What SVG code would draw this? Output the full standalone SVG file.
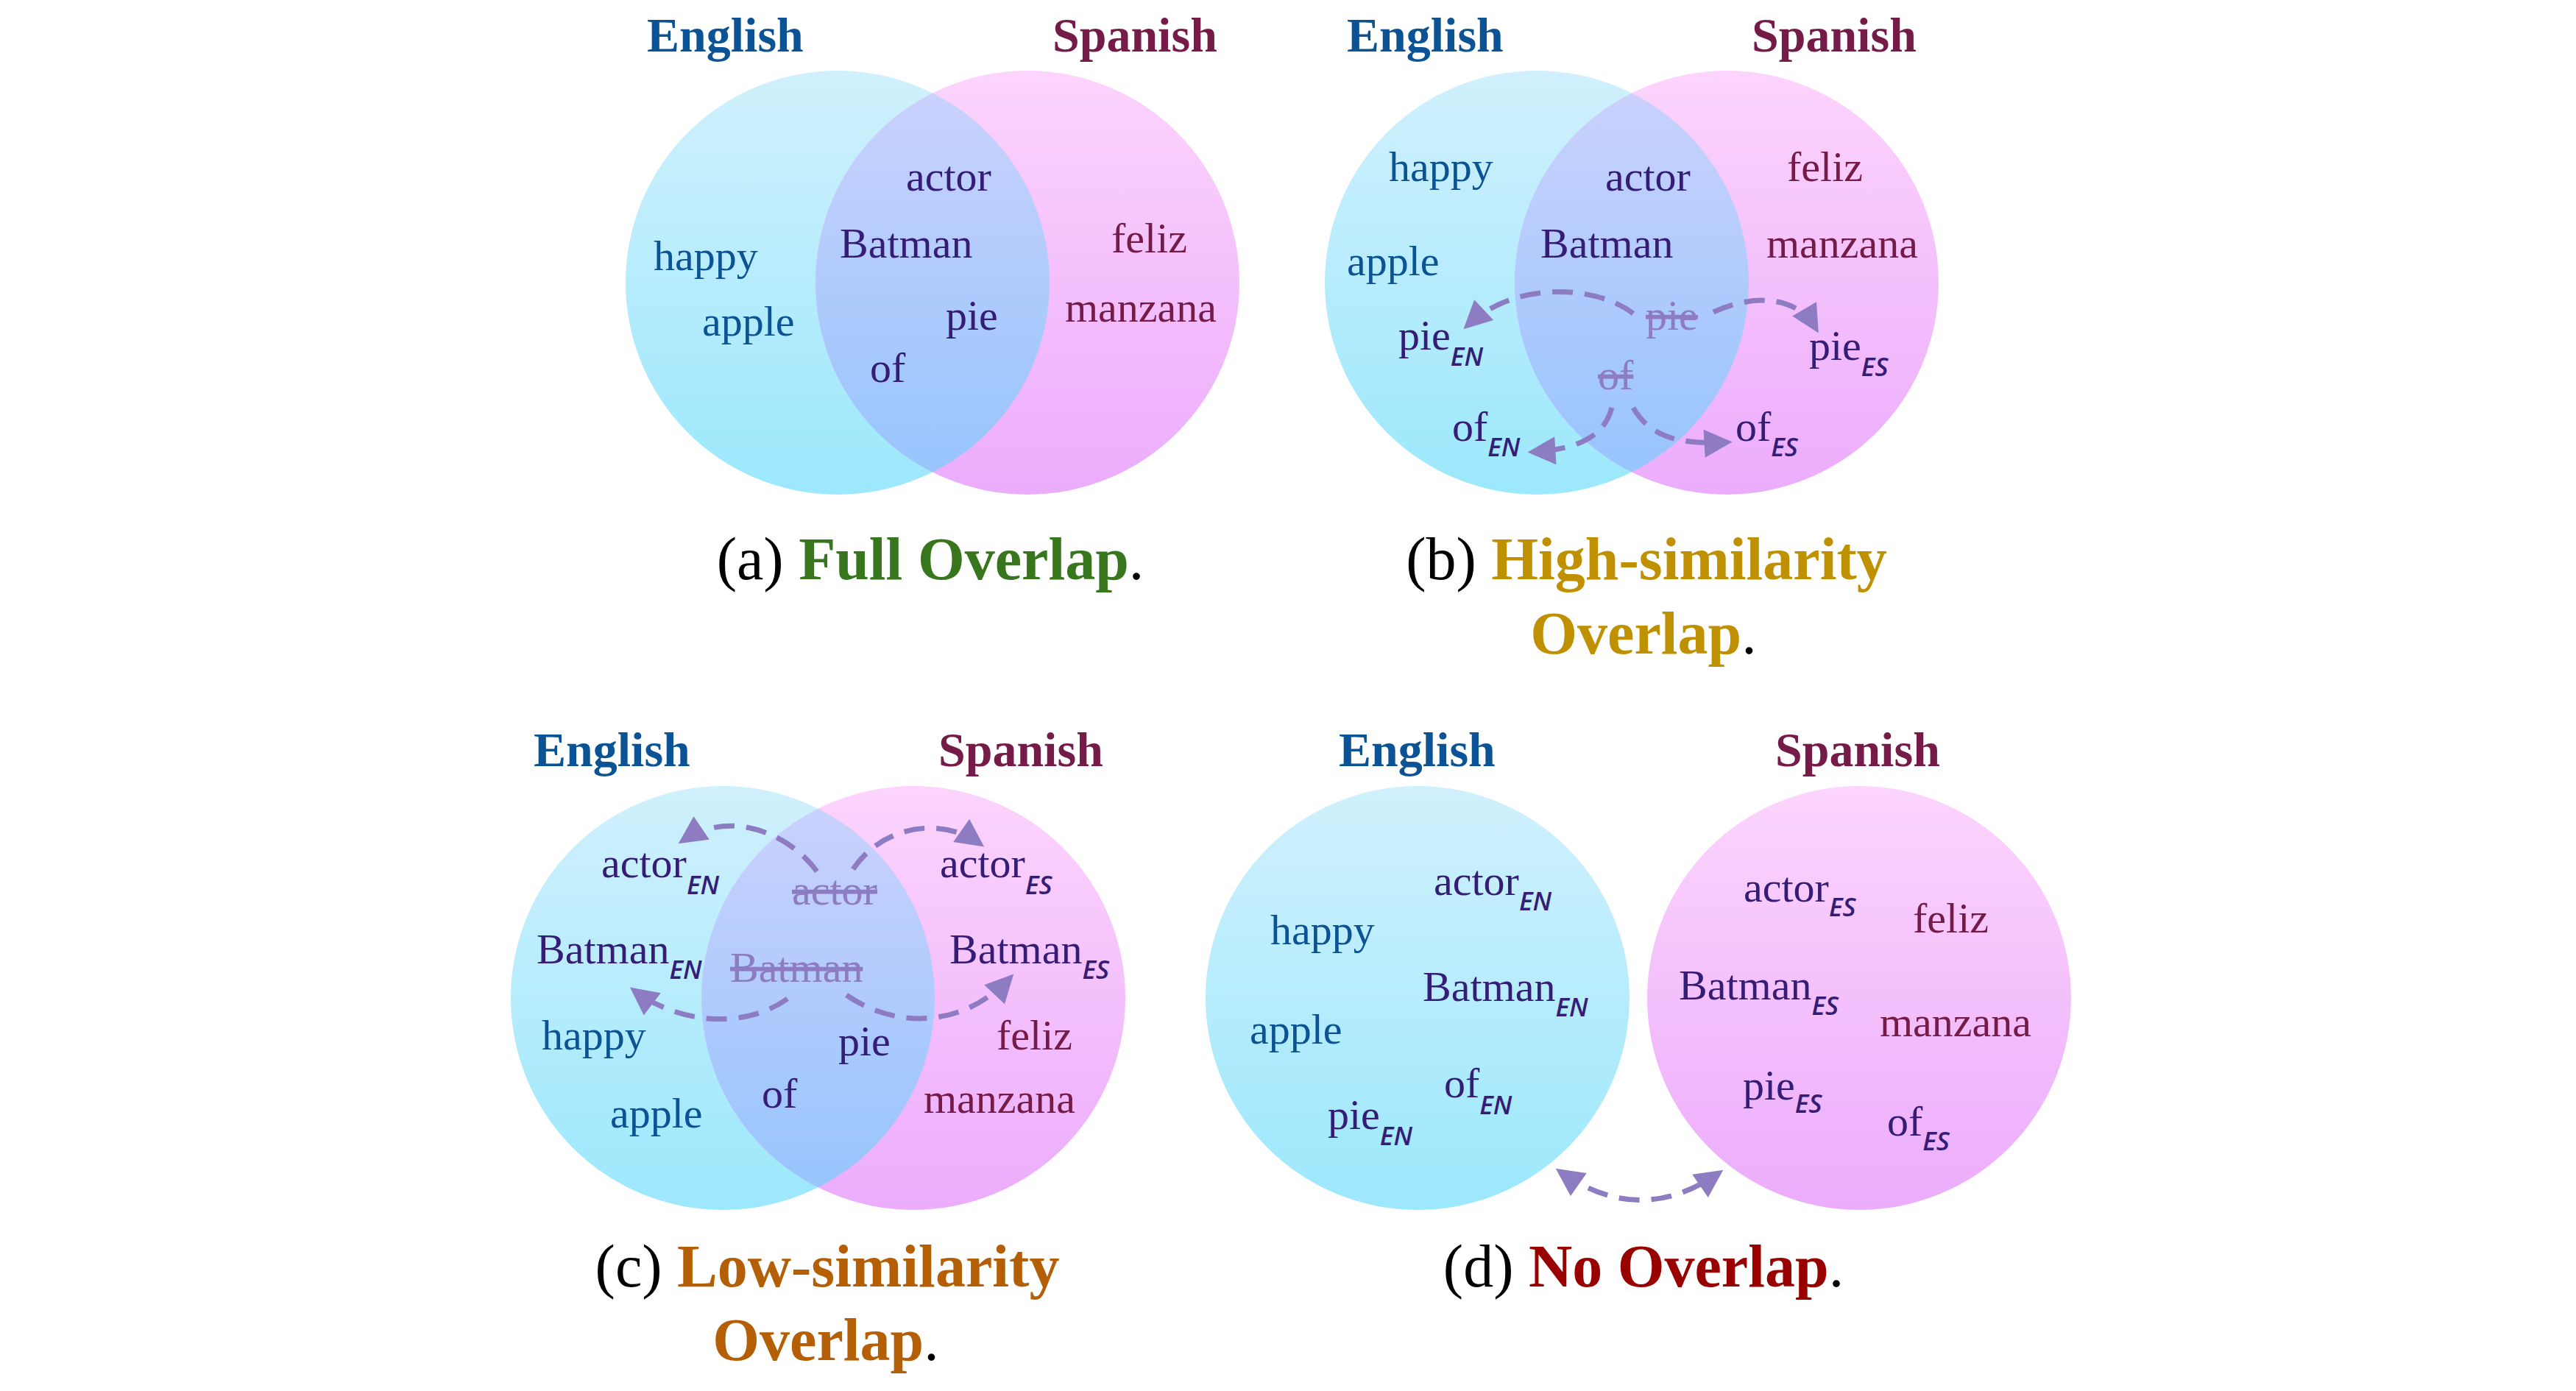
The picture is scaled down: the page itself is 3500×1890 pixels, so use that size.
<svg xmlns="http://www.w3.org/2000/svg" width="3500" height="1890" viewBox="0 0 3500 1890">
<defs>
<linearGradient id="gEN" x1="0" y1="0" x2="0" y2="1"><stop offset="0" stop-color="#d0f0fc"/><stop offset="1" stop-color="#9ce8fc"/></linearGradient>
<linearGradient id="gES" x1="0" y1="0" x2="0" y2="1"><stop offset="0" stop-color="#fcd4fc"/><stop offset="1" stop-color="#ecacfc"/></linearGradient>
<linearGradient id="gOV" x1="0" y1="0" x2="0" y2="1"><stop offset="0" stop-color="#ccd2fc"/><stop offset="1" stop-color="#94c4fc"/></linearGradient>
<clipPath id="clipA"><circle cx="1138" cy="384" r="288"/></clipPath>
<clipPath id="clipB"><circle cx="2088" cy="384" r="288"/></clipPath>
<clipPath id="clipC"><circle cx="982" cy="1356" r="288"/></clipPath>
<marker id="ah" viewBox="0 0 10 10" refX="8" refY="5" markerWidth="40" markerHeight="38" markerUnits="userSpaceOnUse" orient="auto-start-reverse"><path d="M0,0 L10,5 L0,10 z" fill="#8e7cc3"/></marker>
<style>
.en{fill:url(#gEN)}
.es{fill:url(#gES)}
.ov{fill:url(#gOV)}
.title{font-family:"Liberation Serif","Times New Roman",serif;font-weight:bold;font-size:66px}
.tEN{fill:#0b5394}
.tES{fill:#741b47}
.w{font-family:"Liberation Serif","Times New Roman",serif;font-size:58px}
.wEN{fill:#0b5394}
.wES{fill:#741b47}
.wM{fill:#351c75}
.struck{fill:#8e7cc3;text-decoration:line-through}
.sub{font-family:"Open Sans","DejaVu Sans",sans-serif;font-style:italic;font-weight:600;font-size:35px}
.cap{font-family:"Liberation Serif","Times New Roman",serif;font-size:82px;fill:#000}
.b{font-weight:bold}
.conn{fill:none;stroke:#8e7cc3;stroke-width:7;stroke-dasharray:28 16}
</style>
</defs>
<rect width="3500" height="1890" fill="#ffffff"/>

<!-- Panel (a) -->
<g id="panel-a">
<g id="a-english-circle"><circle class="en" cx="1138" cy="384" r="288"/></g>
<g id="a-spanish-circle"><circle class="es" cx="1396" cy="384" r="288"/><circle class="ov" cx="1396" cy="384" r="288" clip-path="url(#clipA)"/></g>
<g id="a-titles"><text class="title tEN" x="879" y="70">English</text><text class="title tES" x="1430" y="70">Spanish</text></g>
<g id="a-words" class="w">
<text class="wEN" x="888" y="367">happy</text>
<text class="wEN" x="954" y="456">apple</text>
<text class="wM" x="1231" y="259">actor</text>
<text class="wM" x="1141" y="350">Batman</text>
<text class="wM" x="1285" y="448">pie</text>
<text class="wM" x="1182" y="519">of</text>
<text class="wES" x="1510" y="343">feliz</text>
<text class="wES" x="1447" y="437">manzana</text>
</g>
<g id="a-caption"><text class="cap" x="1264" y="787" text-anchor="middle">(a) <tspan class="b" fill="#38761d">Full Overlap</tspan>.</text></g>
</g>

<!-- Panel (b) -->
<g id="panel-b">
<g id="b-english-circle"><circle class="en" cx="2088" cy="384" r="288"/></g>
<g id="b-spanish-circle"><circle class="es" cx="2346" cy="384" r="288"/><circle class="ov" cx="2346" cy="384" r="288" clip-path="url(#clipB)"/></g>
<g id="b-titles"><text class="title tEN" x="1830" y="70">English</text><text class="title tES" x="2380" y="70">Spanish</text></g>
<g id="b-words" class="w">
<text class="wEN" x="1887" y="246">happy</text>
<text class="wEN" x="1830" y="374">apple</text>
<text class="wM" x="2181" y="259">actor</text>
<text class="wM" x="2093" y="350">Batman</text>
<text class="wES" x="2428" y="246">feliz</text>
<text class="wES" x="2400" y="350">manzana</text>
<text class="struck" x="2236" y="448">pie</text>
<text class="struck" x="2171" y="529">of</text>
<text class="wM" x="1900" y="475">pie<tspan class="sub" dy="22">EN</tspan></text>
<text class="wM" x="2458" y="489">pie<tspan class="sub" dy="22">ES</tspan></text>
<text class="wM" x="1973" y="599">of<tspan class="sub" dy="21">EN</tspan></text>
<text class="wM" x="2358" y="599">of<tspan class="sub" dy="21">ES</tspan></text>
</g>
<g id="b-caption">
<text class="cap" x="2237" y="787" text-anchor="middle">(b) <tspan class="b" fill="#bf9000">High-similarity</tspan></text>
<text class="cap" x="2233" y="888" text-anchor="middle"><tspan class="b" fill="#bf9000">Overlap</tspan>.</text>
</g>
</g>

<!-- Panel (c) -->
<g id="panel-c">
<g id="c-english-circle"><circle class="en" cx="982" cy="1356" r="288"/></g>
<g id="c-spanish-circle"><circle class="es" cx="1241" cy="1356" r="288"/><circle class="ov" cx="1241" cy="1356" r="288" clip-path="url(#clipC)"/></g>
<g id="c-titles"><text class="title tEN" x="725" y="1041">English</text><text class="title tES" x="1275" y="1041">Spanish</text></g>
<g id="c-words" class="w">
<text class="wM" x="817" y="1192">actor<tspan class="sub" dy="23">EN</tspan></text>
<text class="wM" x="1277" y="1192">actor<tspan class="sub" dy="23">ES</tspan></text>
<text class="struck" x="1076" y="1229">actor</text>
<text class="wM" x="729" y="1309">Batman<tspan class="sub" dy="21">EN</tspan></text>
<text class="struck" x="992" y="1334">Batman</text>
<text class="wM" x="1290" y="1309">Batman<tspan class="sub" dy="21">ES</tspan></text>
<text class="wEN" x="736" y="1426">happy</text>
<text class="wEN" x="829" y="1532">apple</text>
<text class="wM" x="1139" y="1434">pie</text>
<text class="wM" x="1035" y="1505">of</text>
<text class="wES" x="1354" y="1426">feliz</text>
<text class="wES" x="1255" y="1512">manzana</text>
</g>
<g id="c-caption">
<text class="cap" x="1124" y="1748" text-anchor="middle">(c) <tspan class="b" fill="#b45f06">Low-similarity</tspan></text>
<text class="cap" x="1122" y="1848" text-anchor="middle"><tspan class="b" fill="#b45f06">Overlap</tspan>.</text>
</g>
</g>

<!-- Panel (d) -->
<g id="panel-d">
<g id="d-english-circle"><circle class="en" cx="1926" cy="1356" r="288"/></g>
<g id="d-spanish-circle"><circle class="es" cx="2526" cy="1356" r="288"/></g>
<g id="d-titles"><text class="title tEN" x="1819" y="1041">English</text><text class="title tES" x="2412" y="1041">Spanish</text></g>
<g id="d-words" class="w">
<text class="wM" x="1948" y="1216">actor<tspan class="sub" dy="21">EN</tspan></text>
<text class="wEN" x="1726" y="1283">happy</text>
<text class="wM" x="1933" y="1360">Batman<tspan class="sub" dy="21">EN</tspan></text>
<text class="wEN" x="1698" y="1418">apple</text>
<text class="wM" x="1962" y="1491">of<tspan class="sub" dy="23">EN</tspan></text>
<text class="wM" x="1804" y="1534">pie<tspan class="sub" dy="22">EN</tspan></text>
<text class="wM" x="2369" y="1225">actor<tspan class="sub" dy="20">ES</tspan></text>
<text class="wES" x="2599" y="1267">feliz</text>
<text class="wM" x="2281" y="1358">Batman<tspan class="sub" dy="21">ES</tspan></text>
<text class="wES" x="2554" y="1408">manzana</text>
<text class="wM" x="2368" y="1494">pie<tspan class="sub" dy="18">ES</tspan></text>
<text class="wM" x="2564" y="1543">of<tspan class="sub" dy="20">ES</tspan></text>
</g>
<g id="d-caption"><text class="cap" x="2233" y="1748" text-anchor="middle">(d) <tspan class="b" fill="#990000">No Overlap</tspan>.</text></g>
</g>

<!-- Connectors -->
<g id="connectors">
<path class="conn" marker-end="url(#ah)" d="M2219,426 C2170,388 2060,380 1994,442"/>
<path class="conn" marker-end="url(#ah)" d="M2328,424 C2380,400 2440,400 2467,446"/>
<path class="conn" marker-end="url(#ah)" d="M2190,554 C2180,590 2150,610 2083,614"/>
<path class="conn" marker-end="url(#ah)" d="M2219,554 C2240,590 2275,605 2346,601"/>
<path class="conn" marker-end="url(#ah)" d="M1110,1184 C1070,1130 990,1100 928,1142"/>
<path class="conn" marker-end="url(#ah)" d="M1159,1181 C1200,1120 1280,1110 1331,1146"/>
<path class="conn" marker-end="url(#ah)" d="M1070,1357 C1010,1400 920,1390 862,1346"/>
<path class="conn" marker-end="url(#ah)" d="M1150,1352 C1220,1400 1310,1395 1372,1329"/>
<path class="conn" marker-start="url(#ah)" marker-end="url(#ah)" d="M2120,1592 Q2228,1668 2335,1594"/>
</g>
</svg>
